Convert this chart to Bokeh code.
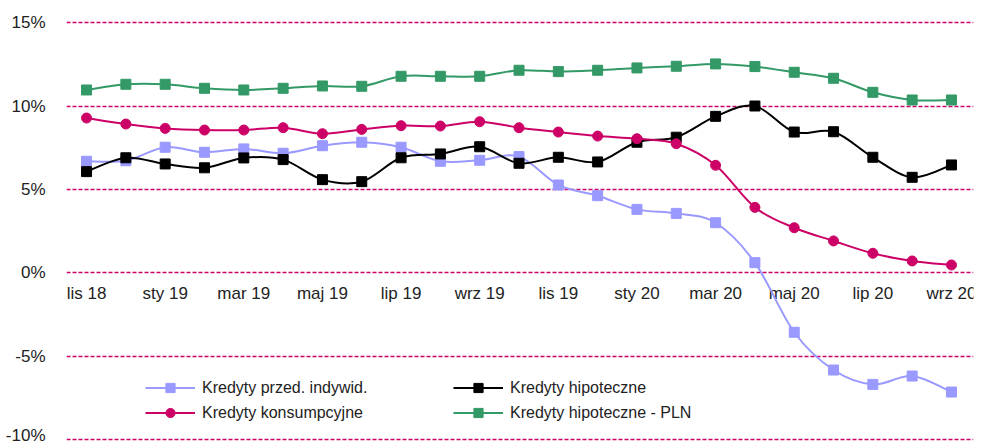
import numpy as np
from bokeh.plotting import figure
from bokeh.models import Legend, LegendItem, FixedTicker, Range1d, PrintfTickFormatter
from bokeh.core.properties import value
from bokeh.embed import file_html
from bokeh.resources import INLINE

months = ["lis 18", "gru 18", "sty 19", "lut 19", "mar 19", "kwi 19", "maj 19", "cze 19",
          "lip 19", "sie 19", "wrz 19", "paź 19", "lis 19", "gru 19", "sty 20", "lut 20",
          "mar 20", "kwi 20", "maj 20", "cze 20", "lip 20", "sie 20", "wrz 20"]
tick_labels = months[::2]
y_ticks = [-10, -5, 0, 5, 10, 15]

przed_indywid = [6.69, 6.72, 7.53, 7.23, 7.43, 7.17, 7.62, 7.83, 7.53, 6.69, 6.75, 6.97,
                 5.27, 4.63, 3.81, 3.57, 3.01, 0.62, -3.55, -5.81, -6.67, -6.17, -7.13]
hipoteczne = [6.07, 6.90, 6.53, 6.30, 6.89, 6.79, 5.59, 5.47, 6.90, 7.13, 7.56, 6.57,
              6.93, 6.65, 7.83, 8.13, 9.38, 10.00, 8.44, 8.46, 6.93, 5.73, 6.47]
konsumpcyjne = [9.28, 8.92, 8.66, 8.56, 8.56, 8.70, 8.34, 8.60, 8.82, 8.80, 9.06, 8.70,
                8.44, 8.20, 8.04, 7.74, 6.45, 3.93, 2.71, 1.92, 1.18, 0.72, 0.48]
hipoteczne_pln = [10.96, 11.30, 11.30, 11.06, 10.96, 11.06, 11.20, 11.18, 11.78, 11.78, 11.78, 12.14,
                  12.06, 12.14, 12.28, 12.38, 12.52, 12.36, 12.02, 11.66, 10.82, 10.36, 10.36]

FONT = "Liberation Sans"
GRID = "#CC0066"

p = figure(width=979, height=444, output_backend="svg", toolbar_location=None,
           x_range=Range1d(-0.51, 22.56), y_range=Range1d(-10.27, 15.12),
           min_border_left=66, min_border_right=6, min_border_top=20, min_border_bottom=0)
p.outline_line_color = None
p.background_fill_color = "white"
p.xaxis.visible = False
p.xgrid.visible = False

p.yaxis.ticker = FixedTicker(ticks=y_ticks)
p.yaxis.formatter = PrintfTickFormatter(format="%d%%")
p.yaxis.axis_line_color = None
p.yaxis.major_tick_line_color = None
p.yaxis.minor_tick_line_color = None
p.yaxis.major_label_standoff = 15
p.yaxis.major_label_text_font = FONT
p.yaxis.major_label_text_font_size = "17px"
p.yaxis.major_label_text_color = "#222222"
p.ygrid.ticker = FixedTicker(ticks=y_ticks)
p.ygrid.grid_line_color = GRID
p.ygrid.grid_line_dash = "4 2"
p.ygrid.grid_line_width = 1.4

xs = np.arange(len(months), dtype=float)

# category labels along the 0% line
p.text(x=xs[::2], y=[0] * len(tick_labels), text=tick_labels, text_align="center",
       text_baseline="middle", y_offset=21, text_font=value(FONT),
       text_font_size="17px", text_color="#222222")


def smooth(xv, yv):
    x = np.asarray(xv, float)
    y = np.asarray(yv, float)
    xp = np.concatenate([[x[0]], x, [x[-1]]])
    yp = np.concatenate([[y[0]], y, [y[-1]]])
    n = len(x)
    x0, x1, y0, y1 = x[:-1], x[1:], y[:-1], y[1:]
    cx0 = x0 + (x1 - xp[0:n - 1]) / 6
    cy0 = y0 + (y1 - yp[0:n - 1]) / 6
    cx1 = x1 - (xp[3:n + 2] - x0) / 6
    cy1 = y1 - (yp[3:n + 2] - y0) / 6
    return dict(x0=x0, y0=y0, x1=x1, y1=y1, cx0=cx0, cy0=cy0, cx1=cx1, cy1=cy1)


series = [
    ("Kredyty przed. indywid.", przed_indywid, "#9999FF", "square", 10),
    ("Kredyty hipoteczne", hipoteczne, "#000000", "square", 10),
    ("Kredyty konsumpcyjne", konsumpcyjne, "#CC0066", "circle", 10),
    ("Kredyty hipoteczne - PLN", hipoteczne_pln, "#339966", "square", 10),
]

items = {}
for name, vals, col, marker, size in series:
    b = smooth(xs, vals)
    rb = p.bezier(line_color=col, line_width=2, **b)
    rs = p.scatter(xs, vals, marker=marker, size=size, fill_color=col, line_color=col)
    items[name] = LegendItem(label=name, renderers=[rb, rs])


def make_legend(names, loc):
    lg = Legend(items=[items[n] for n in names], location=loc, orientation="vertical",
                padding=0, margin=0, spacing=0, glyph_width=50, glyph_height=23,
                label_height=25, label_standoff=7, label_text_font=FONT,
                label_text_font_size="16px", label_text_color="#222222",
                background_fill_alpha=0, border_line_color=None)
    p.add_layout(lg, "center")


make_legend(["Kredyty przed. indywid.", "Kredyty konsumpcyjne"], (79, 19))
make_legend(["Kredyty hipoteczne", "Kredyty hipoteczne - PLN"], (387, 19))

open("out.html", "w").write(file_html(p, INLINE))
